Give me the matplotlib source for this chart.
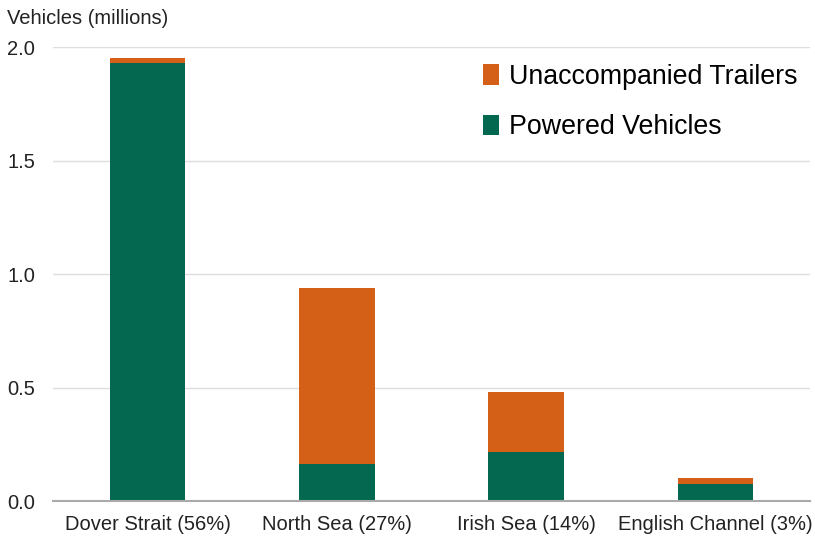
import numpy as np
import matplotlib.pyplot as plt

plt.rcParams['font.family'] = ['Liberation Sans', 'DejaVu Sans']

# datos (millones de vehiculos)
rutas = ['Dover Strait (56%)', 'North Sea (27%)', 'Irish Sea (14%)', 'English Channel (3%)']
powered = [1.93, 0.165, 0.217, 0.075]
trailers = [0.022, 0.775, 0.263, 0.026]

verde = '#03684f'
naranja = '#d45f17'

fig = plt.figure(figsize=(8.15, 5.36), dpi=100)
ax = fig.add_axes([0.065, 0.065, 0.929, 0.847])

x = np.arange(len(rutas))
ax.bar(x, powered, width=0.4, color=verde, label='Powered Vehicles', zorder=3)
ax.bar(x, trailers, width=0.4, bottom=powered, color=naranja,
       label='Unaccompanied Trailers', zorder=3)

ax.set_xlim(-0.5, 3.5)
ax.set_ylim(0, 2.0)
ax.set_yticks([0, 0.5, 1.0, 1.5, 2.0])
ax.set_yticklabels(['0.0', '0.5', '1.0', '1.5', '2.0'])
ax.set_xticks(x)
ax.set_xticklabels(rutas)
ax.tick_params(axis='both', length=0, labelsize=14.5, colors='#222222')
ax.tick_params(axis='y', pad=13)
ax.tick_params(axis='x', pad=10)

ax.grid(axis='y', color='#dedede', linewidth=1, zorder=0)
for s in ['top', 'right', 'left']:
    ax.spines[s].set_visible(False)
ax.spines['bottom'].set_color('#aaaaaa')
ax.spines['bottom'].set_linewidth(1.5)
ax.spines['bottom'].set_zorder(4)

h, l = ax.get_legend_handles_labels()
ax.legend(h[::-1], l[::-1], loc='upper left', bbox_to_anchor=(0.554, 0.987),
          frameon=False, fontsize=19.3, handlelength=0.6, handleheight=0.8,
          handletextpad=0.35, labelspacing=0.92, borderaxespad=0)

fig.text(0.008, 0.955, 'Vehicles (millions)', fontsize=14.5, color='#222222')

plt.savefig('out.png', dpi=100)
